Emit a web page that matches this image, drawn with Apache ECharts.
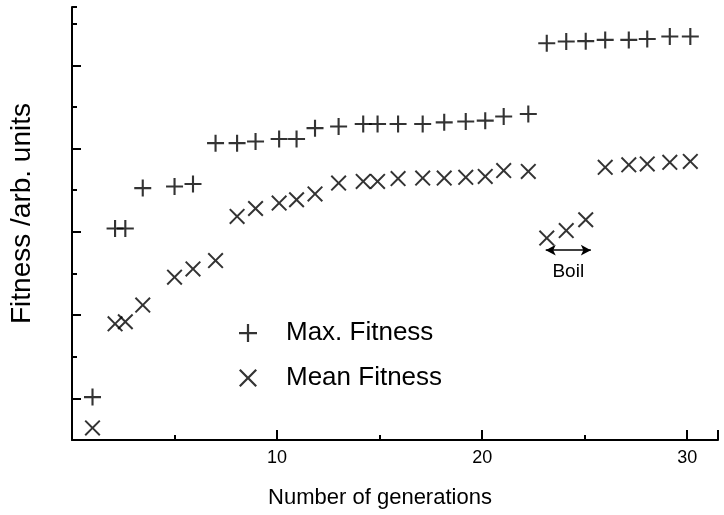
<!DOCTYPE html>
<html>
<head>
<meta charset="utf-8">
<script src="https://cdn.jsdelivr.net/npm/echarts@6/dist/echarts.min.js"></script>
<style>
  html, body { margin: 0; padding: 0; background: #fff; }
  #chart { width: 724px; height: 515px; }
</style>
</head>
<body>
<div id="chart"></div>
<script>
// Generation index of each sample
const gens = [1, 2.1, 2.6, 3.45, 5, 5.9, 7, 8.05, 8.95, 10.1, 10.95, 11.85, 13, 14.2, 14.9,
  15.9, 17.1, 18.15, 19.2, 20.15, 21.05, 22.25, 23.15, 24.1, 25.05, 26, 27.15, 28.05, 29.15, 30.15];

// Best fitness in the population (arb. units)
const maxFitness = [1.03, 5.08, 5.08, 6.05, 6.09, 6.15, 7.13, 7.13, 7.17, 7.23, 7.23, 7.49, 7.53, 7.59, 7.59,
  7.59, 7.59, 7.63, 7.65, 7.67, 7.77, 7.83, 9.53, 9.57, 9.58, 9.61, 9.61, 9.63, 9.69, 9.69];

// Average fitness in the population (arb. units)
const meanFitness = [0.29, 2.79, 2.84, 3.24, 3.91, 4.11, 4.31, 5.37, 5.56, 5.69, 5.77, 5.91, 6.17, 6.21, 6.21,
  6.28, 6.29, 6.29, 6.31, 6.33, 6.47, 6.45, 4.85, 5.03, 5.29, 6.55, 6.61, 6.63, 6.67, 6.69];

// Labelled generation ticks
const xTickLabels = [10, 20, 30];

// Boil interval marked under the dip
const boilRange = [23.1, 25.3];
const boilLevel = 4.56;

const FONT = '"Liberation Sans", Arial, sans-serif';
const INK = '#000';

// Filled outlines for the "+" and "x" markers
const PLUS = 'path://M0,7H7V0H9V7H16V9H9V16H7V9H0Z';
const CROSS = 'path://M1.4,0L8,6.6L14.6,0L16,1.4L9.4,8L16,14.6L14.6,16L8,9.4L1.4,16L0,14.6L6.6,8L0,1.4Z';

const toPoints = ys => gens.map((g, i) => [g, ys[i]]);

const chart = echarts.init(document.getElementById('chart'), null, { renderer: 'canvas' });

const yBase = {
  type: 'value', min: 0, max: 10.4, interval: 1,
  axisLabel: { show: false }, splitLine: { show: false }
};

chart.setOption({
  animation: false,
  backgroundColor: '#fff',
  textStyle: { fontFamily: FONT, color: INK },
  grid: { left: 72, right: 6, top: 7, bottom: 75 },
  legend: {
    orient: 'vertical',
    left: 239, top: 320,
    padding: 0,
    itemWidth: 18, itemHeight: 18, itemGap: 19,
    selectedMode: false,
    textStyle: { fontSize: 26, color: INK, fontFamily: FONT, padding: [0, 0, 0, 24] },
    data: [
      { name: 'Max. Fitness', icon: PLUS },
      { name: 'Mean Fitness', icon: CROSS }
    ]
  },
  xAxis: {
    type: 'value', min: 0, max: 31.5, interval: 10,
    axisLine: { lineStyle: { color: INK, width: 2 } },
    axisTick: { inside: true, length: 10, lineStyle: { color: INK, width: 2 } },
    minorTick: { show: true, splitNumber: 2, length: 5, lineStyle: { color: INK, width: 2 } },
    splitLine: { show: false },
    minorSplitLine: { show: false },
    axisLabel: {
      margin: 9, fontSize: 18, color: INK, fontFamily: FONT,
      formatter: v => (xTickLabels.indexOf(v) >= 0 ? String(v) : '')
    },
    name: 'Number of generations',
    nameLocation: 'middle',
    nameGap: 47,
    nameTextStyle: { fontSize: 22, color: INK, fontFamily: FONT, padding: [0, 30, 0, 0] }
  },
  yAxis: [
    Object.assign({}, yBase, {
      axisLine: { show: true, lineStyle: { color: INK, width: 2 } },
      axisTick: { show: true, inside: true, length: 5, lineStyle: { color: INK, width: 2 } },
      name: 'Fitness /arb. units',
      nameLocation: 'middle',
      nameGap: 36,
      nameTextStyle: { fontSize: 28, color: INK, fontFamily: FONT, padding: [0, 0, 0, 20] }
    }),
    Object.assign({}, yBase, {
      position: 'left',
      axisLine: { show: false },
      axisTick: { show: true, inside: true, length: 9, customValues: [1, 3, 5, 7, 9],
        lineStyle: { color: INK, width: 2 } }
    })
  ],
  series: [
    {
      name: 'Max. Fitness',
      type: 'scatter',
      symbol: PLUS,
      symbolSize: 17,
      itemStyle: { color: INK },
      data: toPoints(maxFitness)
    },
    {
      name: 'Mean Fitness',
      type: 'scatter',
      symbol: CROSS,
      symbolSize: 16,
      itemStyle: { color: INK },
      data: toPoints(meanFitness),
      markLine: {
        silent: true,
        symbol: ['arrow', 'arrow'],
        symbolSize: [8, 10],
        lineStyle: { color: INK, width: 1.5, type: 'solid' },
        label: {
          show: true, position: 'insideMiddleBottom', distance: 12,
          formatter: 'Boil', fontSize: 19, color: INK, fontFamily: FONT
        },
        data: [[{ coord: [boilRange[0], boilLevel] }, { coord: [boilRange[1], boilLevel] }]]
      }
    }
  ]
});
</script>
</body>
</html>
